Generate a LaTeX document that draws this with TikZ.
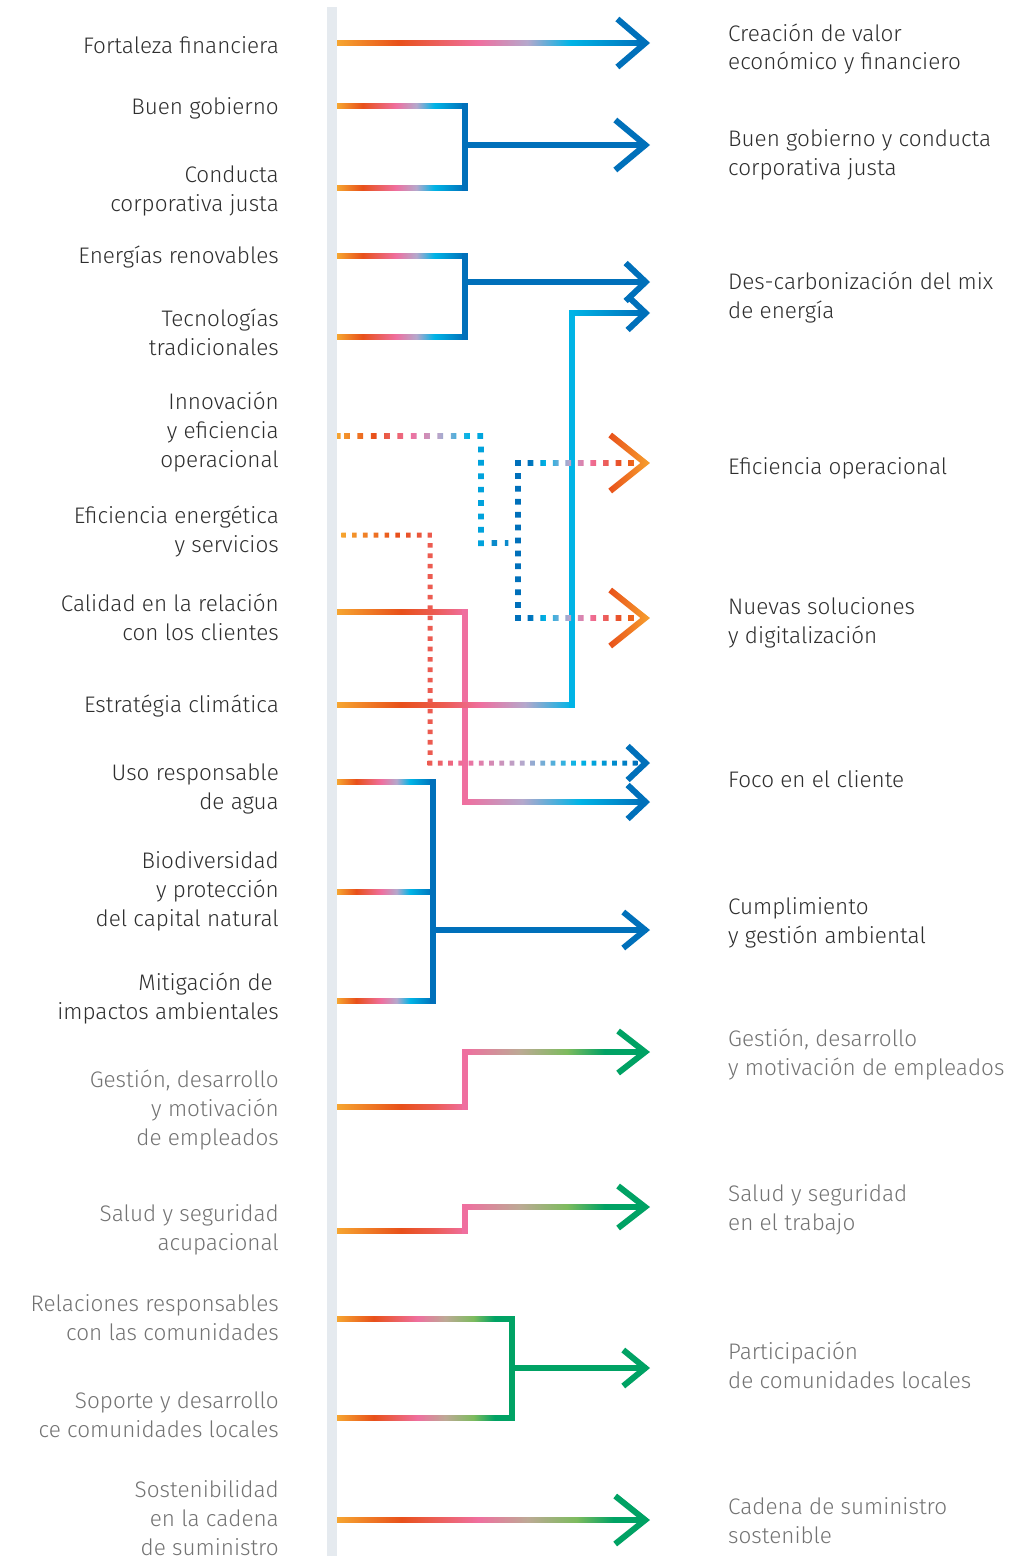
\documentclass[tikz,border=0pt]{standalone}
\usepackage{fontspec}
\setmainfont{Fira Sans}[UprightFont={* Light}]
\usetikzlibrary{calc}
\definecolor{cOr}{HTML}{F6A530}
\definecolor{cOr2}{HTML}{F7A12E}
\definecolor{cRed}{HTML}{E8501A}
\definecolor{cCoral}{HTML}{EC5B50}
\definecolor{cPink}{HTML}{EF6F9F}
\definecolor{cLav}{HTML}{B5A8CC}
\definecolor{cCyan}{HTML}{00B4E6}
\definecolor{cCyanB}{HTML}{00A2DC}
\definecolor{cBlueB}{HTML}{0A8ACB}
\definecolor{cBlue}{HTML}{0070BA}
\definecolor{cTan}{HTML}{BDA995}
\definecolor{cLgreen}{HTML}{7DBB5E}
\definecolor{cTeal}{HTML}{00A264}
\definecolor{cBar}{HTML}{E5EAEF}
\definecolor{cTxt}{HTML}{2E2E2E}
\definecolor{cGray}{HTML}{737373}
\definecolor{cOrRed}{HTML}{EE6A1E}
% shadings: path bounding box maps to 25bp..75bp
\pgfdeclarehorizontalshading{gBlue}{100bp}{color(0bp)=(cOr); color(25bp)=(cOr); color(35bp)=(cRed); color(48bp)=(cPink); color(56bp)=(cLav); color(63bp)=(cCyan); color(75bp)=(cBlue); color(100bp)=(cBlue)}
\pgfdeclarehorizontalshading{gGreen}{100bp}{color(0bp)=(cOr); color(25bp)=(cOr); color(35.5bp)=(cRed); color(48bp)=(cPink); color(56bp)=(cTan); color(64bp)=(cLgreen); color(70bp)=(cTeal); color(75bp)=(cTeal); color(100bp)=(cTeal)}
\pgfdeclarehorizontalshading{gToPink}{100bp}{color(0bp)=(cOr); color(25bp)=(cOr); color(50bp)=(cRed); color(62.5bp)=(cCoral); color(75bp)=(cPink); color(100bp)=(cPink)}
\pgfdeclarehorizontalshading{gPinkBlue}{100bp}{color(0bp)=(cPink); color(25bp)=(cPink); color(41bp)=(cLav); color(57bp)=(cCyan); color(75bp)=(cBlue); color(100bp)=(cBlue)}
\pgfdeclarehorizontalshading{gPinkGreen}{100bp}{color(0bp)=(cPink); color(25bp)=(cPink); color(40bp)=(cTan); color(53.5bp)=(cLgreen); color(64bp)=(cTeal); color(75bp)=(cTeal); color(100bp)=(cTeal)}
\pgfdeclarehorizontalshading{gToCyan}{100bp}{color(0bp)=(cOr); color(25bp)=(cOr); color(38.5bp)=(cRed); color(47.5bp)=(cCoral); color(55.5bp)=(cPink); color(65bp)=(cLav); color(75bp)=(cCyan); color(100bp)=(cCyan)}
\pgfdeclarehorizontalshading{gDotA}{100bp}{color(0bp)=(cOr); color(25bp)=(cOr); color(37.5bp)=(cRed); color(50bp)=(cPink); color(60bp)=(cLav); color(70bp)=(cCyan); color(75bp)=(cCyanB); color(100bp)=(cCyanB)}
\pgfdeclarehorizontalshading{gDotB}{100bp}{color(0bp)=(cBlue); color(25bp)=(cBlue); color(31bp)=(cBlue); color(37.5bp)=(cCyan); color(47.5bp)=(cLav); color(56bp)=(cPink); color(64bp)=(cCoral); color(70bp)=(cRed); color(75bp)=(cOrRed); color(100bp)=(cOrRed)}
\pgfdeclarehorizontalshading{gDotC}{100bp}{color(0bp)=(cOr); color(25bp)=(cOr); color(55bp)=(cRed); color(75bp)=(cCoral); color(100bp)=(cCoral)}
\pgfdeclarehorizontalshading{gDotD}{100bp}{color(0bp)=(cCoral); color(25bp)=(cCoral); color(34bp)=(cPink); color(47.5bp)=(cLav); color(61bp)=(cCyan); color(75bp)=(cBlue); color(100bp)=(cBlue)}
% gradient segment between two named coordinates
\newcommand\gseg[3]{\shade[shading=#1] ($(#2)+(0,-2.75)$) rectangle ($(#3)+(0,2.75)$);}
% chevron arrow head: #1 options, #2 x of outer tip, #3 y, #4 length, #5 half height
\def\chw{3}
\newcommand\chev[5]{%
  \pgfmathsetmacro\chL{sqrt((#4)*(#4)+(#5)*(#5))}%
  \pgfmathsetmacro\chA{\chw*(#5)/\chL}%
  \pgfmathsetmacro\chB{\chw*(#4)/\chL}%
  \pgfmathsetmacro\chT{\chw*\chL/(#5)}%
  \pgfmathsetmacro\chX{#2-\chT}%
  \path[#1] (\chX-#4+\chA,#3-#5-\chB) -- (\chX+\chT,#3) -- (\chX-#4+\chA,#3+#5+\chB)
     -- (\chX-#4-\chA,#3+#5-\chB) -- (\chX-\chT,#3) -- (\chX-#4-\chA,#3-#5+\chB) -- cycle;}
\begin{document}
\begin{tikzpicture}[x=1pt,y=-1pt,
  sl/.style={line width=5.5pt,line cap=rect},
  txt/.style={inner sep=0pt,font={\fontsize{22.5}{28.8}\selectfont},text=cTxt},
  lt/.style={txt,anchor=base east,align=right},
  rt/.style={txt,anchor=base west,align=left},
  gr/.style={text=cGray}]
\useasboundingbox[fill=white] (0,0) rectangle (1032,1561);
% left labels (y = baseline of last line)
\node[lt] (L1) at (279,53) {Fortaleza financiera};
\node[lt] (L2) at (279,114) {Buen gobierno};
\node[lt] (L3) at (279,211.5) {Conducta\\corporativa justa};
\node[lt] (L4) at (279,263) {Energías renovables};
\node[lt] (L5) at (279,355) {Tecnologías\\tradicionales};
\node[lt] (L6) at (279,467) {Innovación\\y eficiencia\\operacional};
\node[lt] (L7) at (279,552) {Eficiencia energética\\y servicios};
\node[lt] (L8) at (279,640) {Calidad en la relación\\con los clientes};
\node[lt] (L9) at (279,712) {Estratégia climática};
\node[lt] (L10) at (279,809.5) {Uso responsable\\de agua};
\node[lt] (L11) at (279,926.5) {Biodiversidad\\y protección\\del capital natural};
\node[lt] (L12) at (279,1019) {Mitigación de\hspace*{0.27em}\\impactos ambientales};
\node[lt,gr] (L13) at (279,1145) {Gestión, desarrollo\\y motivación\\de empleados};
\node[lt,gr] (L14) at (279,1250) {Salud y seguridad\\acupacional};
\node[lt,gr] (L15) at (279,1340) {Relaciones responsables\\con las comunidades};
\node[lt,gr] (L16) at (279,1437) {Soporte y desarrollo\\ce comunidades locales};
\node[lt,gr] (L17) at (279,1555.5) {Sostenibilidad\\en la cadena\\de suministro};
% right labels
\node[rt] (R1) at (728,69.8) {Creación de valor\\económico y financiero};
\node[rt] (R2) at (728,175.3) {Buen gobierno y conducta\\corporativa justa};
\node[rt] (R3) at (728,318) {Des-carbonización del mix\\de energía};
\node[rt] (R4) at (728,474) {Eficiencia operacional};
\node[rt] (R5) at (728,643) {Nuevas soluciones\\y digitalización};
\node[rt] (R6) at (728,787) {Foco en el cliente};
\node[rt] (R7) at (728,943) {Cumplimiento\\y gestión ambiental};
\node[rt,gr] (R8) at (728,1075) {Gestión, desarrollo\\y motivación de empleados};
\node[rt,gr] (R9) at (728,1230) {Salud y seguridad\\en el trabajo};
\node[rt,gr] (R10) at (728,1388) {Participación\\de comunidades locales};
\node[rt,gr] (R11) at (728,1543) {Cadena de suministro\\sostenible};
% vertical bar
\fill[cBar] (327,7) rectangle (337,1556);
% coordinates
\coordinate (a1) at (337,43); \coordinate (a1e) at (644,43);
\coordinate (b1) at (337,106); \coordinate (b1c) at (465,106);
\coordinate (b2) at (337,188); \coordinate (b2c) at (465,188);
\coordinate (bm) at (465,145); \coordinate (bme) at (644,145);
\coordinate (c1) at (337,256); \coordinate (c1c) at (465,256);
\coordinate (c2) at (337,337); \coordinate (c2c) at (465,337);
\coordinate (cm) at (465,282); \coordinate (cme) at (644,282);
\coordinate (e1) at (337,705); \coordinate (e1c) at (572,705);
\coordinate (e2) at (572,313); \coordinate (e2e) at (644,313);
\coordinate (q1) at (337,612); \coordinate (q1c) at (465,612);
\coordinate (q2) at (465,802); \coordinate (q2e) at (644,802);
\coordinate (u1) at (337,782); \coordinate (u1c) at (433,782);
\coordinate (u2) at (337,892); \coordinate (u2c) at (433,892);
\coordinate (u3) at (337,1001); \coordinate (u3c) at (433,1001);
\coordinate (um) at (433,930); \coordinate (ume) at (644,930);
\coordinate (g1) at (337,1107); \coordinate (g1c) at (465,1107);
\coordinate (g2) at (465,1052); \coordinate (g2e) at (644,1052);
\coordinate (s1) at (337,1231); \coordinate (s1c) at (465,1231);
\coordinate (s2) at (465,1207); \coordinate (s2e) at (644,1207);
\coordinate (r1) at (337,1319); \coordinate (r1c) at (512,1319);
\coordinate (r2) at (337,1418); \coordinate (r2c) at (512,1418);
\coordinate (rm) at (512,1368); \coordinate (rme) at (644,1368);
\coordinate (t1) at (337,1520); \coordinate (t1e) at (644,1520);
% Fortaleza
\gseg{gBlue}{a1}{a1e}
\chev{fill=cBlue}{650}{43}{28}{24}
% Buen gobierno
\gseg{gBlue}{b1}{b1c} \gseg{gBlue}{b2}{b2c}
\draw[sl,cBlue] (b1c) -- (b2c); \draw[sl,cBlue] (bm) -- (bme);
\chev{fill=cBlue}{650}{145}{30}{25}
% Energias
\gseg{gBlue}{c1}{c1c} \gseg{gBlue}{c2}{c2c}
\draw[sl,cBlue] (c1c) -- (c2c); \draw[sl,cBlue] (cm) -- (cme);
\chev{fill=cBlue}{650}{282}{20}{19}
% Calidad
\gseg{gToPink}{q1}{q1c}
\draw[sl,cPink] (q1c) -- (q2);
\gseg{gPinkBlue}{q2}{q2e}
\chev{fill=cBlue}{650}{802}{18}{17}
% Estrategia
\gseg{gToCyan}{e1}{e1c}
\draw[sl,cCyan] (e1c) -- (e2);
\shade[left color=cCyan,right color=cBlue] ($(e2)+(0,-2.75)$) rectangle ($(e2e)+(0,2.75)$);
\chev{fill=cBlue}{650}{313}{18}{17}
% Uso / Biodiversidad / Mitigacion
\gseg{gBlue}{u1}{u1c} \gseg{gBlue}{u2}{u2c} \gseg{gBlue}{u3}{u3c}
\draw[sl,cBlue] (u1c) -- (u3c); \draw[sl,cBlue] (um) -- (ume);
\chev{fill=cBlue}{650}{930}{22}{18}
% Gestion
\gseg{gToPink}{g1}{g1c}
\draw[sl,cPink] (g1c) -- (g2);
\gseg{gPinkGreen}{g2}{g2e}
\chev{fill=cTeal}{650}{1052}{27}{21}
% Salud
\gseg{gToPink}{s1}{s1c}
\draw[sl,cPink] (s1c) -- (s2);
\gseg{gPinkGreen}{s2}{s2e}
\chev{fill=cTeal}{650}{1207}{27}{21}
% Relaciones / Soporte
\gseg{gGreen}{r1}{r1c} \gseg{gGreen}{r2}{r2c}
\draw[sl,cTeal] (r1c) -- (r2c); \draw[sl,cTeal] (rm) -- (rme);
\chev{fill=cTeal}{650}{1368}{22}{18}
% Sostenibilidad
\gseg{gGreen}{t1}{t1e}
\chev{fill=cTeal}{650}{1520}{30}{24}
% ---- dotted: Innovacion
\begin{scope}
  \clip (337,433.15) rectangle (340.6,438.85)
     foreach \k in {0,...,10} {(344.15+13.33*\k,433.15) rectangle ++(5.7,5.7)};
  \shade[shading=gDotA] (337,433.15) rectangle (483.2,438.85);
\end{scope}
\fill[cCyanB] foreach \k in {1,...,8} {(478.15,433.15+13.4*\k) rectangle ++(5.7,5.7)};
\fill[cBlueB] (491.5,540.15) rectangle ++(5.7,5.7) (504.8,540.15) rectangle ++(3.6,5.7);
\fill[cBlue] foreach \k in {0,...,12} {(515.15,460.15+12.917*\k) rectangle ++(5.7,5.7)};
\begin{scope}
  \clip foreach \k in {0,...,9} {(515.15+12.55*\k,460.15) rectangle ++(5.7,5.7)};
  \shade[shading=gDotB] (515.15,460.15) rectangle (634.1,465.85);
\end{scope}
\begin{scope}
  \clip foreach \k in {0,...,9} {(515.15+12.55*\k,615.15) rectangle ++(5.7,5.7)};
  \shade[shading=gDotB] (515.15,615.15) rectangle (634.1,620.85);
\end{scope}
\chev{shade,left color=cRed,right color=cOr2}{650}{463}{35}{28}
\chev{shade,left color=cRed,right color=cOr2}{650}{618}{35}{28}
% ---- dotted: Eficiencia energetica
\begin{scope}
  \clip foreach \k in {0,...,8} {(427.7-10.8*\k,532.5) rectangle ++(4.6,5)};
  \shade[shading=gDotC] (341.3,532.5) rectangle (432.3,537.5);
\end{scope}
\fill[cCoral] foreach \k in {1,...,21} {(427.5,532.7+10.364*\k) rectangle ++(5,4.6)};
\begin{scope}
  \clip foreach \k in {0,...,20} {(427.7+10.25*\k,760.5) rectangle ++(4.6,5)};
  \shade[shading=gDotD] (427.7,760.5) rectangle (637.3,765.5);
\end{scope}
\chev{fill=cBlue}{650}{763}{18}{17}
\end{tikzpicture}
\end{document}
